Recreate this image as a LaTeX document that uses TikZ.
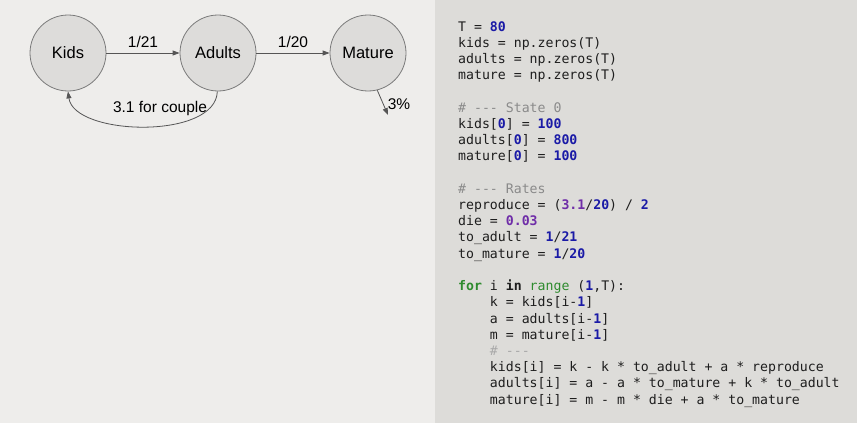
\documentclass[tikz,border=0pt]{standalone}
\usepackage{fontspec}
\setmainfont{Liberation Sans}
\newfontfamily\codefont{DejaVu Sans Mono}
\usetikzlibrary{arrows.meta}
\definecolor{bgleft}{HTML}{EEEDEB}
\definecolor{bgright}{HTML}{DDDCD9}
\definecolor{circfill}{HTML}{DDDCDA}
\definecolor{circline}{HTML}{7A7A7A}
\definecolor{arrowc}{HTML}{555555}
\definecolor{numc}{HTML}{1A1AA6}
\definecolor{floatc}{HTML}{6F2DA8}
\definecolor{kwc}{HTML}{2E8B2E}
\definecolor{cmtc}{HTML}{8A8A8A}
\definecolor{cmtl}{HTML}{A8A8A8}
\definecolor{codec}{HTML}{1E1E1E}
\newcommand{\nm}[1]{\textbf{\textcolor{numc}{#1}}}
\newcommand{\fl}[1]{\textbf{\textcolor{floatc}{#1}}}
\newcommand{\kw}[1]{\textbf{\textcolor{kwc}{#1}}}
\newcommand{\bi}[1]{\textcolor{kwc}{#1}}
\newcommand{\cm}[1]{\textcolor{cmtc}{#1}}
\begin{document}
\begin{tikzpicture}[x=1pt,y=-1pt,
  state/.style={circle, draw=circline, fill=circfill, line width=0.8pt, minimum size=76pt, inner sep=0pt, font=\fontsize{16.5}{18}\selectfont},
  flow/.style={draw=arrowc, line width=0.8pt, -{Triangle[length=7pt,width=5pt]}},
  lbl/.style={font=\fontsize{15.5}{17}\selectfont, inner sep=0pt},
  code/.style={anchor=base west, inner sep=0pt, text=codec, font=\codefont\fontsize{13.2}{16}\selectfont}]
\fill[bgleft] (0,0) rectangle (857,423);
\fill[bgright] (435,0) rectangle (857,423);
\useasboundingbox (0,0) rectangle (857,423);
% diagram
\node[state] (kids) at (68,53) {Kids};
\node[state] (adults) at (218,53) {Adults};
\node[state] (mature) at (368,53) {Mature};
\draw[flow] (kids) -- (adults) node[lbl, midway, above=5pt] (l21) {1/21};
\draw[flow] (adults) -- (mature) node[lbl, midway, above=5pt] (l20) {1/20};
\draw[flow] (adults.-91) .. controls (216,140) and (74,136) .. (kids.-90);
\node[lbl] (couple) at (160,108) {3.1 for couple};
\coordinate (death) at (388,115);
\draw[flow] (mature.-76) -- (death);
\node[lbl] (pct) at (399,104) {3\%};
% code
\node[code] (c1) at (458,31) {T = \nm{80}};
\node[code] (c2) at (458,47) {kids = np.zeros(T)};
\node[code] (c3) at (458,63) {adults = np.zeros(T)};
\node[code] (c4) at (458,79.5) {mature = np.zeros(T)};
\node[code] (c5) at (458,112) {\cm{\# --- State 0}};
\node[code] (c6) at (458,128) {kids[\nm{0}] = \nm{100}};
\node[code] (c7) at (458,144.5) {adults[\nm{0}] = \nm{800}};
\node[code] (c8) at (458,160.5) {mature[\nm{0}] = \nm{100}};
\node[code] (c9) at (458,193) {\cm{\# --- Rates}};
\node[code] (c10) at (458,209.5) {reproduce = (\fl{3.1}/\nm{20}) / \nm{2}};
\node[code] (c11) at (458,225.5) {die = \fl{0.03}};
\node[code] (c12) at (458,241.5) {to\_adult = \nm{1}/\nm{21}};
\node[code] (c13) at (458,258) {to\_mature = \nm{1}/\nm{20}};
\node[code] (c14) at (458,290.5) {\kw{for} i \textbf{in} \bi{range} (\nm{1},T):};
\node[code] (c15) at (458,306.5) {\phantom{xxxx}k = kids[i-\nm{1}]};
\node[code] (c16) at (458,323) {\phantom{xxxx}a = adults[i-\nm{1}]};
\node[code] (c17) at (458,339) {\phantom{xxxx}m = mature[i-\nm{1}]};
\node[code] (c18) at (458,355) {\phantom{xxxx}\textcolor{cmtl}{\# ---}};
\node[code] (c19) at (458,371.5) {\phantom{xxxx}kids[i] = k - k * to\_adult + a * reproduce};
\node[code] (c20) at (458,387.5) {\phantom{xxxx}adults[i] = a - a * to\_mature + k * to\_adult};
\node[code] (c21) at (458,404) {\phantom{xxxx}mature[i] = m - m * die + a * to\_mature};
\end{tikzpicture}
\end{document}
